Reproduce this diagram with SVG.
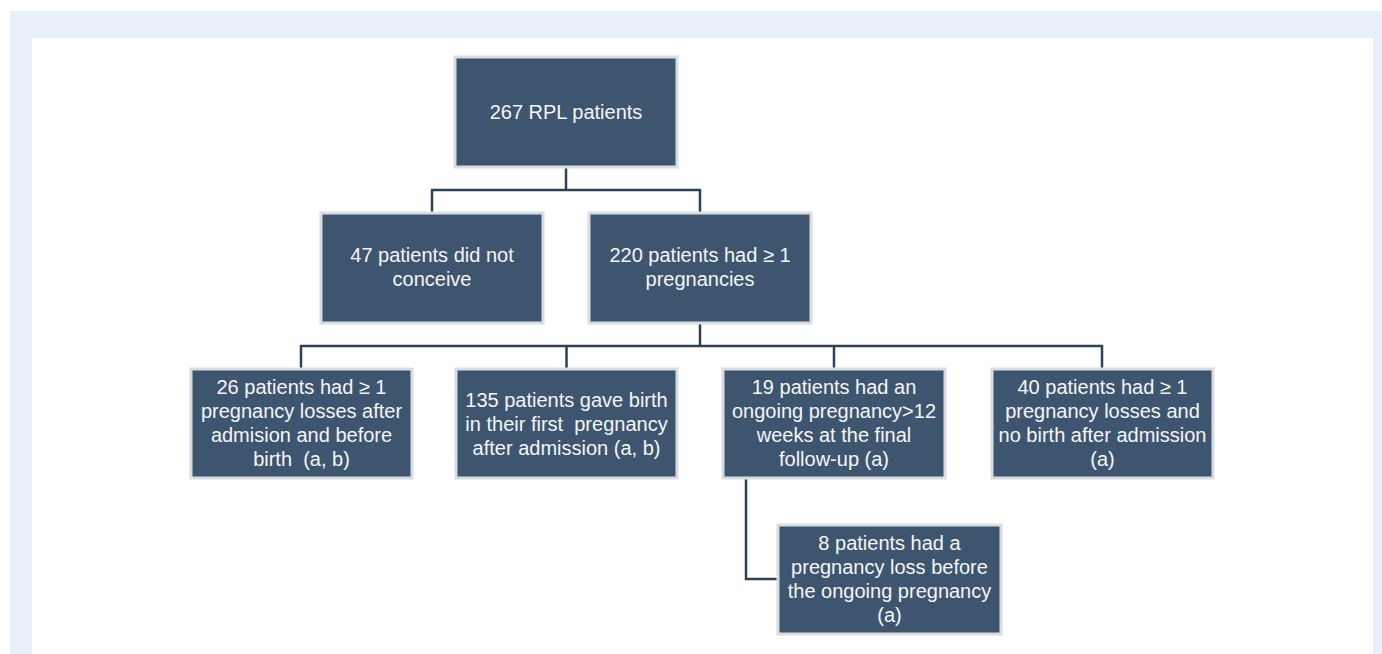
<svg xmlns="http://www.w3.org/2000/svg" width="1382" height="654" viewBox="0 0 1382 654">
<style>
.bx{fill:#3d556f;stroke:#d9dde2;stroke-width:3}
.t{font-family:"Liberation Sans",Arial,sans-serif;font-size:20px;fill:#f4f5f7;text-anchor:middle;white-space:pre}
.c{fill:none;stroke:#2c4258;stroke-width:2.5}
</style>
<rect x="10" y="11" width="1372" height="643" fill="#e7eff9"/>
<rect x="32" y="38" width="1341" height="616" fill="#ffffff"/>
<g id="connectors">
<path class="c" d="M566 167V190M432 213V190H700V213"/>
<path class="c" d="M700 323V346M301 369V346H1102V369M566.5 346V369M834 346V369"/>
<path class="c" d="M746 478V579H778"/>
</g>
<g id="n0"><rect class="bx" x="455" y="57" width="222" height="110"/><text class="t" x="566" y="119">267 RPL patients</text></g>
<g id="n1"><rect class="bx" x="321" y="213" width="222" height="110"/><text class="t" x="432" y="262">47 patients did not</text><text class="t" x="432" y="286">conceive</text></g>
<g id="n2"><rect class="bx" x="589" y="213" width="222" height="110"/><text class="t" x="700" y="262">220 patients had ≥ 1</text><text class="t" x="700" y="286">pregnancies</text></g>
<g id="n3"><rect class="bx" x="191" y="369" width="221" height="109"/><text class="t" x="301.5" y="394">26 patients had ≥ 1</text><text class="t" x="301.5" y="418">pregnancy losses after</text><text class="t" x="301.5" y="442">admision and before</text><text class="t" x="301.5" y="466">birth  (a, b)</text></g>
<g id="n4"><rect class="bx" x="456" y="369" width="221" height="109"/><text class="t" x="566.5" y="407">135 patients gave birth</text><text class="t" x="566.5" y="431">in their first  pregnancy</text><text class="t" x="566.5" y="455">after admission (a, b)</text></g>
<g id="n5"><rect class="bx" x="723" y="369" width="222" height="109"/><text class="t" x="834" y="394">19 patients had an</text><text class="t" x="834" y="418">ongoing pregnancy&gt;12</text><text class="t" x="834" y="442">weeks at the final</text><text class="t" x="834" y="466">follow-up (a)</text></g>
<g id="n6"><rect class="bx" x="992" y="369" width="221" height="109"/><text class="t" x="1102.5" y="394">40 patients had ≥ 1</text><text class="t" x="1102.5" y="418">pregnancy losses and</text><text class="t" x="1102.5" y="442">no birth after admission</text><text class="t" x="1102.5" y="466">(a)</text></g>
<g id="n7"><rect class="bx" x="778" y="525" width="223" height="109"/><text class="t" x="889.5" y="550">8 patients had a</text><text class="t" x="889.5" y="574">pregnancy loss before</text><text class="t" x="889.5" y="598">the ongoing pregnancy</text><text class="t" x="889.5" y="622">(a)</text></g>
</svg>
